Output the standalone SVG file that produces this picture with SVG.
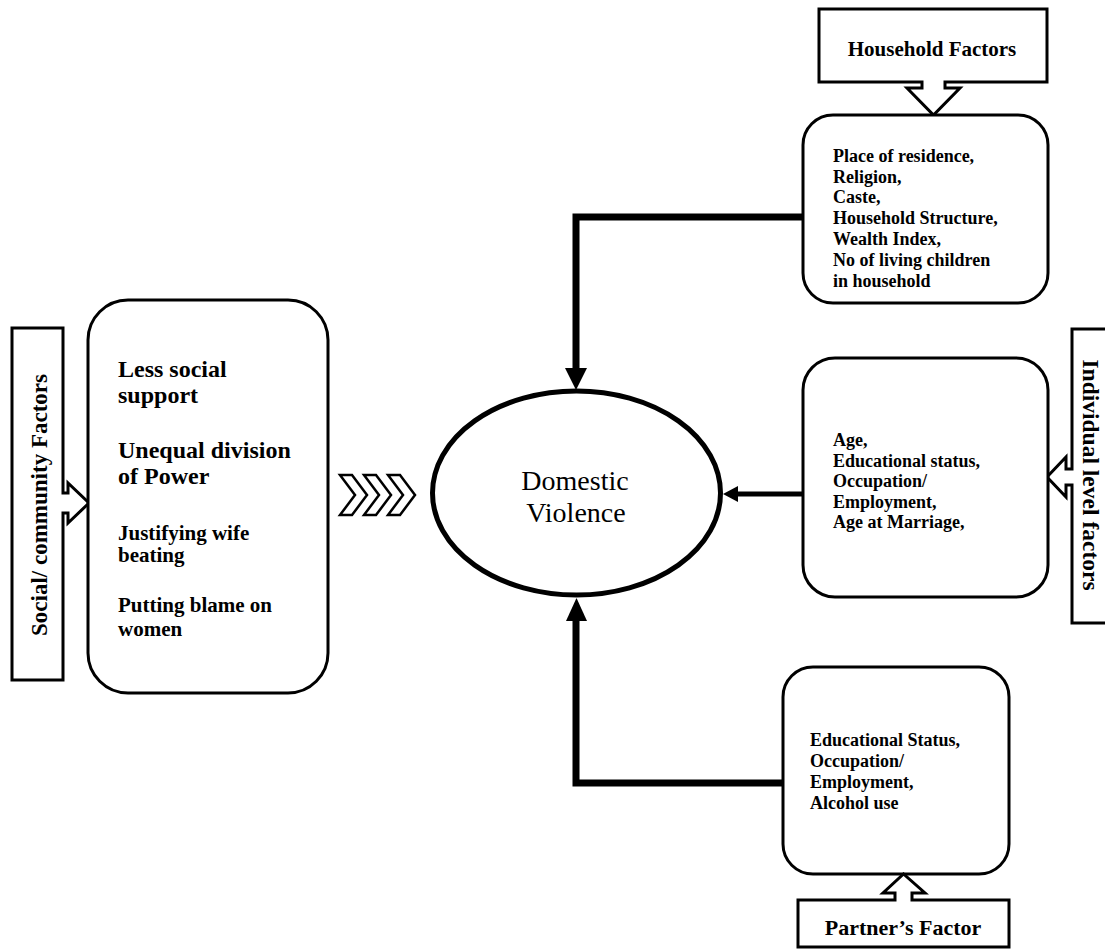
<svg xmlns="http://www.w3.org/2000/svg" width="1105" height="951" viewBox="0 0 1105 951">
<style>
.box{fill:#fff;stroke:#000;stroke-width:3}
.callout{fill:#fff;stroke:#000;stroke-width:3;stroke-linejoin:miter}
.t{font-family:"Liberation Serif","Times New Roman",serif;font-weight:bold;fill:#000}
.s18{font-size:18px}
.conn{fill:none;stroke:#000;stroke-linejoin:miter}
.head{fill:#000;stroke:none}
.chev{fill:#fff;stroke:#000;stroke-width:2.5;stroke-linejoin:miter}
</style>
<rect width="1105" height="951" fill="#fff"/>

<g id="connectors">
  <polyline class="conn" points="803,217 576,217 576,370" stroke-width="7"/>
  <polygon class="head" points="565,368 587,368 576,390"/>
  <line class="conn" x1="803" y1="494" x2="736" y2="494" stroke-width="5"/>
  <polygon class="head" points="738,486 738,502 723,494"/>
  <polyline class="conn" points="783,783 576,783 576,619" stroke-width="7"/>
  <polygon class="head" points="566,621 587,621 576.5,598"/>
</g>

<g id="chevrons">
  <polygon class="chev" points="340,475 352,475 367,495 352,515 340,515 355,495"/>
  <polygon class="chev" points="364,475 376,475 391,495 376,515 364,515 379,495"/>
  <polygon class="chev" points="388,475 400,475 415,495 400,515 388,515 403,495"/>
</g>

<g id="domestic-violence">
  <ellipse cx="576.5" cy="493" rx="144" ry="102" fill="#fff" stroke="#000" stroke-width="5"/>
  <text x="575" y="490" text-anchor="middle" font-family="'Liberation Serif','Times New Roman',serif" font-size="28" fill="#000">Domestic</text>
  <text x="576" y="522" text-anchor="middle" font-family="'Liberation Serif','Times New Roman',serif" font-size="28" fill="#000">Violence</text>
</g>

<g id="social-callout">
  <path class="callout" d="M12,328 H63 V493 H68 V483 L89,503 L68,523 V513 H63 V680 H12 Z"/>
  <text class="t" font-size="23" text-anchor="middle" transform="translate(47,505) rotate(-90)">Social/ community Factors</text>
</g>

<g id="social-box">
  <rect class="box" x="88" y="300" width="240" height="393" rx="40"/>
  <text class="t" font-size="24" x="118" y="377">Less social</text>
  <text class="t" font-size="24" x="118" y="403">support</text>
  <text class="t" font-size="24" x="118" y="458">Unequal division</text>
  <text class="t" font-size="24" x="118" y="484">of Power</text>
  <text class="t" font-size="21" x="118" y="540">Justifying wife</text>
  <text class="t" font-size="21" x="118" y="562">beating</text>
  <text class="t" font-size="21" x="118" y="612">Putting blame on</text>
  <text class="t" font-size="21" x="118" y="636">women</text>
</g>

<g id="household-callout">
  <path class="callout" d="M819,9 H1047 V82 H945 V88 H960 L933.5,115 L907,88 H922 V82 H819 Z"/>
  <text class="t" font-size="21" x="932" y="56" text-anchor="middle">Household Factors</text>
</g>

<g id="household-box">
  <rect class="box" x="803" y="115" width="245" height="188" rx="30"/>
  <text class="t s18" x="833" y="162">Place of residence,</text>
  <text class="t s18" x="833" y="183">Religion,</text>
  <text class="t s18" x="833" y="203">Caste,</text>
  <text class="t s18" x="833" y="224">Household Structure,</text>
  <text class="t s18" x="833" y="245">Wealth Index,</text>
  <text class="t s18" x="833" y="266">No of living children</text>
  <text class="t s18" x="833" y="287">in household</text>
</g>

<g id="individual-callout">
  <path class="callout" d="M1110,329 H1072 V469 H1066 V457 L1047,477 L1066,497 V485 H1072 V623 H1110"/>
  <text class="t" font-size="23.5" text-anchor="middle" transform="translate(1083,475) rotate(90)">Individual level factors</text>
</g>

<g id="individual-box">
  <rect class="box" x="803" y="358" width="245" height="239" rx="32"/>
  <text class="t s18" x="833" y="446">Age,</text>
  <text class="t s18" x="833" y="467">Educational status,</text>
  <text class="t s18" x="833" y="487">Occupation/</text>
  <text class="t s18" x="833" y="508">Employment,</text>
  <text class="t s18" x="833" y="528">Age at Marriage,</text>
</g>

<g id="partner-box">
  <rect class="box" x="783" y="667" width="226" height="207" rx="30"/>
  <text class="t s18" x="810" y="746">Educational Status,</text>
  <text class="t s18" x="810" y="767">Occupation/</text>
  <text class="t s18" x="810" y="788">Employment,</text>
  <text class="t s18" x="810" y="809">Alcohol use</text>
</g>

<g id="partner-callout">
  <path class="callout" d="M798,947 V900 H895 V893 H883 L903.5,874 L925,893 H912 V900 H1009 V947 Z"/>
  <text class="t" font-size="22" x="903" y="935" text-anchor="middle">Partner’s Factor</text>
</g>
</svg>
